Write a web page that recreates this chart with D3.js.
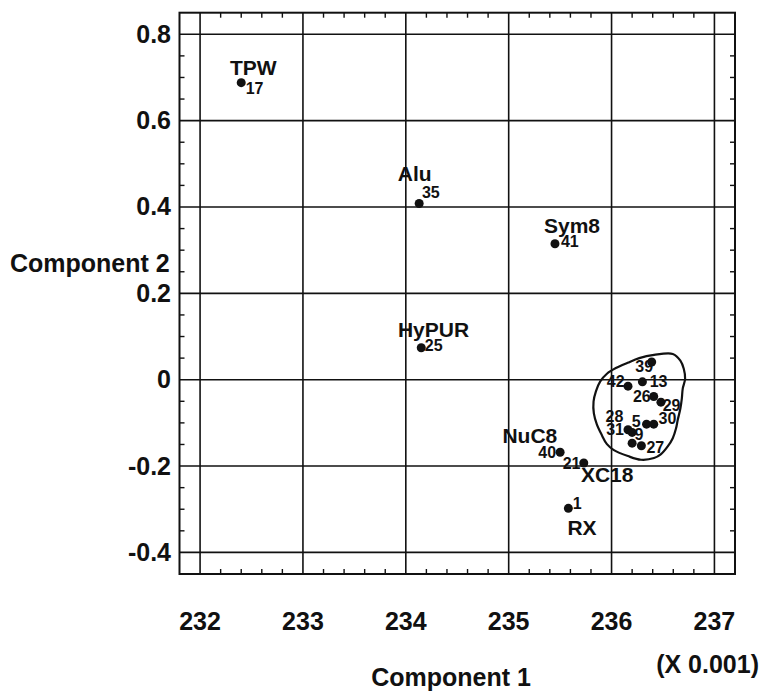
<!DOCTYPE html>
<html>
<head>
<meta charset="utf-8">
<script src="https://cdn.jsdelivr.net/npm/d3@7"></script>
<style>
  body { margin: 0; background: #fff; }
  text { font-family: "Liberation Sans", Arial, sans-serif; fill: #111; }
</style>
</head>
<body>
<script>
//============================================================
// Data
var ids   = [17, 35, 41, 25, 40, 21, 1, 39, 42, 13, 26, 29, 5, 30, 31, 28, 9, 27];
var comp1 = [232.40, 234.13, 235.45, 234.15, 235.50, 235.73, 235.58,
             236.39, 236.16, 236.30, 236.41, 236.48, 236.34, 236.41,
             236.16, 236.20, 236.20, 236.29];
var comp2 = [0.688, 0.408, 0.315, 0.074, -0.168, -0.193, -0.298,
             0.041, -0.015, -0.005, -0.039, -0.052, -0.103, -0.103,
             -0.116, -0.122, -0.147, -0.153];
var names = ["TPW", "Alu", "Sym8", "HyPUR", "NuC8", "XC18", "RX",
             "", "", "", "", "", "", "", "", "", "", ""];

// hand drawn outline round the cluster
var hullC1 = [236.413, 236.595, 236.669, 236.702, 236.715, 236.692, 236.683,
              236.669, 236.643, 236.627, 236.595, 236.546, 236.481, 236.413,
              236.286, 236.159, 236.023, 235.955, 235.906, 235.857, 235.828,
              235.825, 235.848, 235.890, 235.955, 236.042, 236.156, 236.269];
var hullC2 = [0.0574, 0.0597, 0.0443, 0.0253, 0.0023, -0.0207, -0.0436,
              -0.0666, -0.0935, -0.1126, -0.1355, -0.1546, -0.1723, -0.1815,
              -0.1854, -0.1769, -0.1631, -0.1493, -0.1286, -0.1034, -0.0781,
              -0.0505, -0.0269, -0.0039, 0.0138, 0.0269, 0.0391, 0.0499];

var xTicks = [232, 233, 234, 235, 236, 237];
var yTicks = [0.8, 0.6, 0.4, 0.2, 0, -0.2, -0.4];

// label placement (pixels from the dot): number label, then name label
var numPos = [[4.5, 11, "start"], [2.7, -5.6, "start"], [6, 3.5, "start"], [3.6, 3.5, "start"],
              [-4, 5.5, "end"], [-3.3, 5.7, "end"], [4.4, 1, "start"],
              [-16.4, 10, "start"], [-3.4, 1, "end"], [7.3, 5, "start"], [-3, 5.3, "end"],
              [1.7, 9.2, "start"], [-6, 3.3, "end"], [4.8, 0.3, "start"], [-4, 5, "end"],
              [-8.8, -10.7, "end"], [2.3, -3.3, "start"], [5, 7.3, "start"]];
var namePos = [[12, -8], [-4.5, -22.6], [17, -11], [12.3, -11],
               [-30.3, -9.5], [23.4, 19], [13.7, 26.6]];

//============================================================
// Set up SVG
var W = 764, H = 692;
var svg = d3.select("body")
  .append("svg")
  .attr("width", W)
  .attr("height", H);

svg.append("rect").attr("width", W).attr("height", H).attr("fill", "#fff");

var x = d3.scaleLinear().domain([231.8, 237.2]).range([179.5, 735]);
var y = d3.scaleLinear().domain([-0.45, 0.85]).range([574, 12.7]);

var fLeft = x.range()[0], fRight = x.range()[1];
var fTop = y.range()[1], fBottom = y.range()[0];

//============================================================
// Grid lines
svg.selectAll(".vgrid")
  .data(xTicks)
  .enter()
  .append("line")
  .attr("x1", function (d) { return x(d); })
  .attr("x2", function (d) { return x(d); })
  .attr("y1", fTop)
  .attr("y2", fBottom)
  .attr("stroke", "#111")
  .attr("stroke-width", 1.6);

svg.selectAll(".hgrid")
  .data(yTicks)
  .enter()
  .append("line")
  .attr("x1", fLeft)
  .attr("x2", fRight)
  .attr("y1", function (d) { return y(d); })
  .attr("y2", function (d) { return y(d); })
  .attr("stroke", "#111")
  .attr("stroke-width", 1.6);

//============================================================
// Minor ticks pointing inward on all four sides
var xMinor = d3.range(232, 237.01, 0.2).filter(function (d) {
  return Math.abs(d - Math.round(d)) > 0.01;
});
var yMinor = d3.range(-0.4, 0.801, 0.05).filter(function (d) {
  return Math.abs(d * 5 - Math.round(d * 5)) > 0.01;
});
var tl = 5;

var ticks = svg.append("g").attr("stroke", "#111").attr("stroke-width", 1.4);
xMinor.forEach(function (d) {
  ticks.append("line").attr("x1", x(d)).attr("x2", x(d)).attr("y1", fBottom).attr("y2", fBottom - tl);
  ticks.append("line").attr("x1", x(d)).attr("x2", x(d)).attr("y1", fTop).attr("y2", fTop + tl);
});
yMinor.forEach(function (d) {
  ticks.append("line").attr("y1", y(d)).attr("y2", y(d)).attr("x1", fLeft).attr("x2", fLeft + tl);
  ticks.append("line").attr("y1", y(d)).attr("y2", y(d)).attr("x1", fRight).attr("x2", fRight - tl);
});

// frame
svg.append("rect")
  .attr("x", fLeft)
  .attr("y", fTop)
  .attr("width", fRight - fLeft)
  .attr("height", fBottom - fTop)
  .attr("fill", "none")
  .attr("stroke", "#111")
  .attr("stroke-width", 2);

//============================================================
// Tick labels and axis titles
svg.selectAll(".xlab")
  .data(xTicks)
  .enter()
  .append("text")
  .attr("x", function (d) { return x(d); })
  .attr("y", 630)
  .attr("text-anchor", "middle")
  .style("font-size", "25px")
  .style("font-weight", "bold")
  .text(function (d) { return d; });

svg.selectAll(".ylab")
  .data(yTicks)
  .enter()
  .append("text")
  .attr("x", 171)
  .attr("y", function (d) { return y(d) + 8.5; })
  .attr("text-anchor", "end")
  .style("font-size", "25px")
  .style("font-weight", "bold")
  .text(function (d) { return d; });

svg.append("text")
  .attr("x", 10)
  .attr("y", 272)
  .style("font-size", "25px")
  .style("font-weight", "bold")
  .text("Component 2");

svg.append("text")
  .attr("x", 451)
  .attr("y", 686)
  .attr("text-anchor", "middle")
  .style("font-size", "25px")
  .style("font-weight", "bold")
  .text("Component 1");

svg.append("text")
  .attr("x", 759)
  .attr("y", 673)
  .attr("text-anchor", "end")
  .style("font-size", "25px")
  .style("font-weight", "bold")
  .text("(X 0.001)");

//============================================================
// Outline round the cluster
var hull = hullC1.map(function (d, i) { return [d, hullC2[i]]; });
svg.append("path")
  .datum(hull)
  .attr("d", d3.line()
    .x(function (d) { return x(d[0]); })
    .y(function (d) { return y(d[1]); })
    .curve(d3.curveCatmullRomClosed))
  .attr("fill", "none")
  .attr("stroke", "#111")
  .attr("stroke-width", 2.2);

//============================================================
// Points and their labels
var pts = ids.map(function (d, i) {
  return { id: d, c1: comp1[i], c2: comp2[i], name: names[i], i: i };
});

svg.selectAll(".pt")
  .data(pts)
  .enter()
  .append("circle")
  .attr("cx", function (d) { return x(d.c1); })
  .attr("cy", function (d) { return y(d.c2); })
  .attr("r", 4.5)
  .attr("fill", "#111");

svg.selectAll(".num")
  .data(pts)
  .enter()
  .append("text")
  .attr("x", function (d) { return x(d.c1) + numPos[d.i][0]; })
  .attr("y", function (d) { return y(d.c2) + numPos[d.i][1]; })
  .attr("text-anchor", function (d) { return numPos[d.i][2]; })
  .style("font-size", "16px")
  .style("font-weight", "bold")
  .text(function (d) { return d.id; });

svg.selectAll(".name")
  .data(pts.filter(function (d) { return d.name !== ""; }))
  .enter()
  .append("text")
  .attr("x", function (d) { return x(d.c1) + namePos[d.i][0]; })
  .attr("y", function (d) { return y(d.c2) + namePos[d.i][1]; })
  .attr("text-anchor", "middle")
  .style("font-size", "21px")
  .style("font-weight", "bold")
  .text(function (d) { return d.name; });
</script>
</body>
</html>
